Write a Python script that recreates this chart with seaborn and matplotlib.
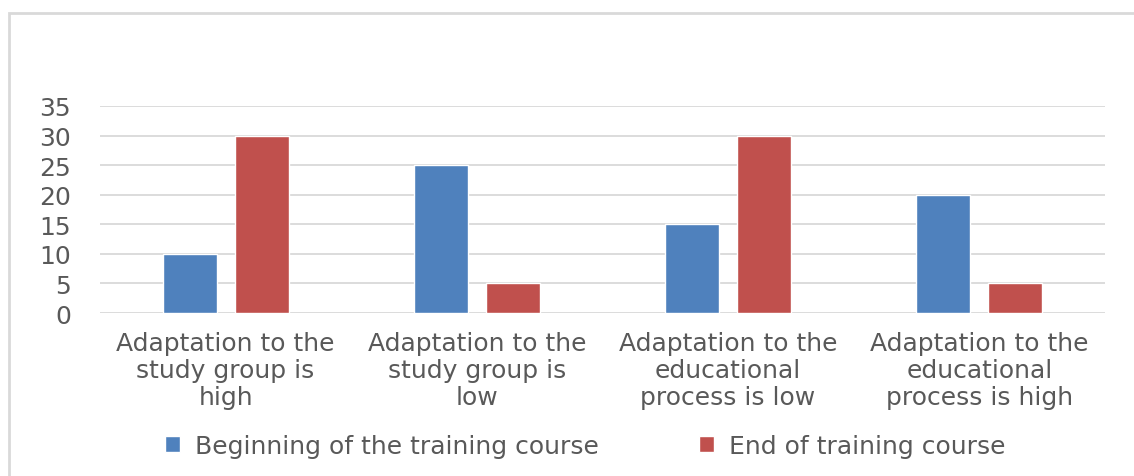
import pandas as pd
import matplotlib
matplotlib.use("Agg")
import matplotlib.pyplot as plt
import seaborn as sns
from matplotlib.patches import Rectangle

categories = [
    "Adaptation to the\nstudy group is\nhigh",
    "Adaptation to the\nstudy group is\nlow",
    "Adaptation to the\neducational\nprocess is low",
    "Adaptation to the\neducational\nprocess is high",
]
series = ["Beginning of the training course", "End of training course"]
beginning = [10, 25, 15, 20]
end = [30, 5, 30, 5]
colors = ["#4f81bd", "#c0504d"]

df = pd.DataFrame({
    "category": categories * 2,
    "series": [series[0]] * 4 + [series[1]] * 4,
    "value": beginning + end,
})

sns.set_style("white")
plt.rcParams["font.family"] = ["DejaVu Sans"]

fig = plt.figure(figsize=(11.34, 4.77), dpi=100)
ax = fig.add_axes([100 / 1134, 1 - 314 / 477, 1005 / 1134, 207 / 477])

sns.barplot(data=df, x="category", y="value", hue="series", palette=colors,
            width=0.574, gap=0.25, saturation=1, ax=ax, legend=True)

ax.set_ylim(0, 35)
ax.set_yticks(range(0, 36, 5))
ax.set_xlim(-0.5, 3.5)
ax.set_axisbelow(True)
ax.grid(axis="y", color="#d9d9d9", linewidth=1.3)
for s in ax.spines.values():
    s.set_visible(False)
ax.set_xlabel("")
ax.set_ylabel("")
ax.tick_params(axis="y", length=0, pad=21, labelsize=18, labelcolor="#595959")
ax.tick_params(axis="x", length=0, pad=13, labelsize=18, labelcolor="#595959")
for lab in ax.get_xticklabels():
    lab.set_linespacing(1.15)

ax.legend(loc="center", bbox_to_anchor=(585 / 1134, 1 - 447 / 477),
          bbox_transform=fig.transFigure, ncol=2, frameon=False,
          fontsize=18, labelcolor="#595959", handlelength=0.6,
          handleheight=0.6, columnspacing=4.0, handletextpad=0.6)

# chart frame
fig.patches.append(Rectangle((9 / 1134, -0.2), 1.2, 1.2 - 14 / 477,
                             transform=fig.transFigure, fill=False,
                             edgecolor="#d9d9d9", linewidth=2))

fig.savefig("out.png", dpi=100)
